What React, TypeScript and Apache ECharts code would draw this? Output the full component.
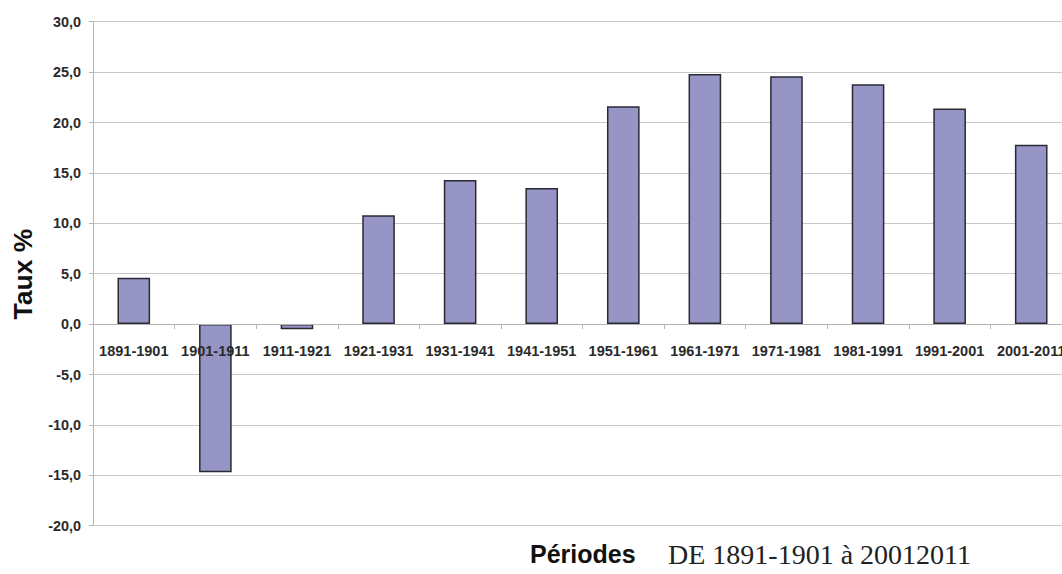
import React, { useEffect, useRef } from "react";
import * as echarts from "echarts";

const categories = [
  "1891-1901", "1901-1911", "1911-1921", "1921-1931", "1931-1941", "1941-1951",
  "1951-1961", "1961-1971", "1971-1981", "1981-1991", "1991-2001", "2001-2011",
];
const rates = [4.6, -14.7, -0.5, 10.8, 14.3, 13.5, 21.6, 24.8, 24.6, 23.8, 21.4, 17.8];
const yMin = -20;
const yMax = 30;
const yStep = 5;
const yTitle = "Taux %";
const xTitle = "Périodes";
const xSubtitle = "DE 1891-1901 à 20012011";

const GRID_TOP = 21.7;
const GRID_BOTTOM = 48.3;
const CHART_H = 574;
const CHART_W = 1072;

export default function App() {
  const ref = useRef<HTMLDivElement>(null);
  useEffect(() => {
    if (!ref.current) return;
    const chart = echarts.init(ref.current, undefined, { renderer: "svg" });
    const plotH = CHART_H - GRID_TOP - GRID_BOTTOM;
    const zeroOffset = -((0 - yMin) / (yMax - yMin)) * plotH;
    chart.setOption({
      animation: false,
      backgroundColor: "#ffffff",
      grid: { left: 93, right: 0, top: GRID_TOP, bottom: GRID_BOTTOM, containLabel: false },
      xAxis: {
        type: "category",
        data: categories,
        position: "bottom",
        offset: zeroOffset,
        z: 10,
        axisLine: { onZero: false, lineStyle: { color: "#b4b4b4", width: 1 } },
        axisTick: { show: true, length: 5, lineStyle: { color: "#b4b4b4" } },
        axisLabel: {
          interval: 0,
          margin: 19,
          fontSize: 14.5,
          fontWeight: "bold",
          color: "#2a2a2a",
          fontFamily: "Liberation Sans, Arial, sans-serif",
        },
        splitLine: { show: false },
      },
      yAxis: {
        type: "value",
        min: yMin,
        max: yMax,
        interval: yStep,
        axisLine: { show: true, lineStyle: { color: "#b4b4b4", width: 1 } },
        axisTick: { show: true, length: 4, lineStyle: { color: "#b4b4b4" } },
        axisLabel: {
          margin: 12,
          fontSize: 14.4,
          fontWeight: "bold",
          color: "#2a2a2a",
          fontFamily: "Liberation Sans, Arial, sans-serif",
          formatter: (v: number) => v.toFixed(1).replace(".", ","),
        },
        splitLine: { show: true, lineStyle: { color: "#c8c8c8", width: 1 } },
      },
      series: [
        {
          type: "bar",
          data: rates,
          barWidth: "40%",
          z: 2,
          itemStyle: { color: "#9794c6", borderColor: "#2a2a35", borderWidth: 1.5 },
        },
      ],
      graphic: [
        {
          type: "text",
          x: 23,
          y: 274,
          rotation: Math.PI / 2,
          style: {
            text: yTitle,
            fontSize: 26.5,
            fontWeight: "bold",
            fontFamily: "Liberation Sans, Arial, sans-serif",
            fill: "#111",
            align: "center",
            verticalAlign: "middle",
          },
        },
        {
          type: "text",
          x: 530,
          y: 554,
          style: {
            text: xTitle,
            fontSize: 25,
            fontWeight: "bold",
            fontFamily: "Liberation Sans, Arial, sans-serif",
            fill: "#111",
            align: "left",
            verticalAlign: "middle",
          },
        },
        {
          type: "text",
          x: 668,
          y: 554,
          style: {
            text: xSubtitle,
            fontSize: 28,
            fontFamily: "Liberation Serif, Times New Roman, serif",
            fill: "#222",
            align: "left",
            verticalAlign: "middle",
          },
        },
      ],
    });
    return () => chart.dispose();
  }, []);
  return (
    <div style={{ position: "absolute", left: 0, top: 0, width: 1062, height: CHART_H, overflow: "hidden" }}>
      <div ref={ref} style={{ width: CHART_W, height: CHART_H }} />
    </div>
  );
}
